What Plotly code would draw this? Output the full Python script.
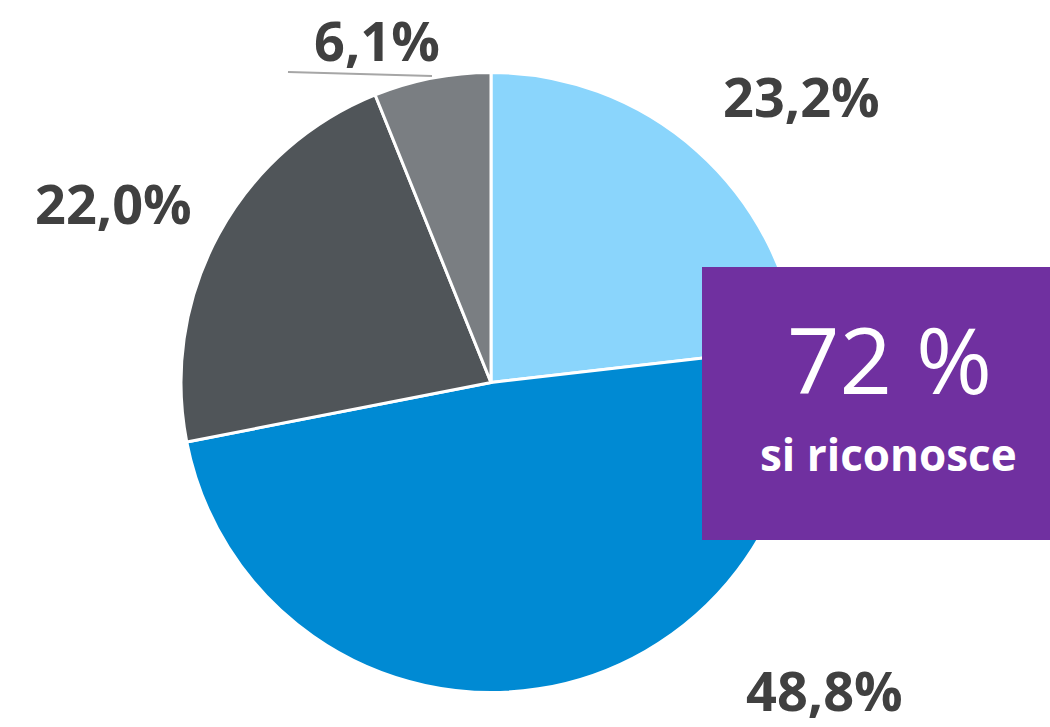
import plotly.graph_objects as go

# ---- data ----
categories = ["A", "B", "C", "D"]
values = [23.2, 48.8, 22.0, 6.1]
label_texts = ["23,2%", "48,8%", "22,0%", "6,1%"]
colors = ["#8AD5FC", "#008AD3", "#505559", "#7A7E82"]
box_big = "72 %"
box_small = "si riconosce"

# ---- layout constants (pixels) ----
W, H = 1050, 727
cx, cy, r = 491, 382, 310
# label centers (pixel positions)
label_pos = [(801, 96), (824, 690), (113, 203), (377, 40)]

def px(x):
    return x / W

def py(y):
    return 1 - y / H

fig = go.Figure(go.Pie(
    labels=categories,
    values=values,
    sort=False,
    direction="clockwise",
    rotation=0,
    marker=dict(colors=colors, line=dict(color="white", width=3)),
    textinfo="none",
    hoverinfo="none",
    showlegend=False,
    domain=dict(x=[px(cx - r), px(cx + r)], y=[py(cy + r + 1), py(cy - r)]),
))

annotations = []
for t, (lx, ly) in zip(label_texts, label_pos):
    annotations.append(dict(
        x=px(lx), y=py(ly), xref="paper", yref="paper",
        text=t, showarrow=False, xanchor="center", yanchor="middle",
        font=dict(family="Open Sans", size=54, color="#404040", weight="bold"),
    ))

annotations.append(dict(
    x=px(889), y=py(358), xref="paper", yref="paper", text=box_big,
    showarrow=False, xanchor="center", yanchor="middle",
    font=dict(family="Open Sans", size=92, color="white"),
))
annotations.append(dict(
    x=px(888), y=py(454), xref="paper", yref="paper", text=box_small,
    showarrow=False, xanchor="center", yanchor="middle",
    font=dict(family="Open Sans", size=44, color="white", weight="bold"),
))

shapes = [
    dict(type="rect", xref="paper", yref="paper",
         x0=px(702), x1=1.0, y0=py(540), y1=py(267),
         fillcolor="#7030A0", line=dict(width=0), layer="above"),
    dict(type="line", xref="paper", yref="paper",
         x0=px(288), y0=py(72), x1=px(432), y1=py(76),
         line=dict(color="#A6A6A6", width=2), layer="above"),
]

fig.update_layout(
    width=W, height=H,
    margin=dict(l=0, r=0, t=0, b=0),
    paper_bgcolor="white", plot_bgcolor="white",
    annotations=annotations, shapes=shapes,
)

fig.write_html(
    "out.html",
    config={"displayModeBar": False},
    post_script="document.body.style.margin='0';document.body.style.overflow='hidden';",
)
